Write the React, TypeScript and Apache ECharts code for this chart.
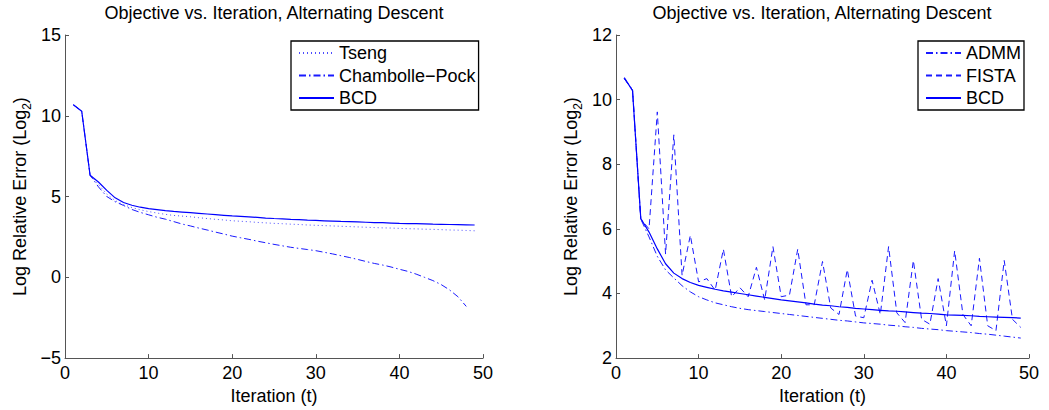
import React, { useEffect, useRef } from "react";
import * as echarts from "echarts";

const FONT = "'Liberation Sans', Arial, Helvetica, sans-serif";
const TITLE = "Objective vs. Iteration, Alternating Descent";

const iterations = [
  1, 2, 3, 4, 5, 6, 7, 8, 9, 10, 11, 12, 13, 14, 15, 16, 17, 18, 19, 20,
  21, 22, 23, 24, 25, 26, 27, 28, 29, 30, 31, 32, 33, 34, 35, 36, 37, 38, 39, 40,
  41, 42, 43, 44, 45, 46, 47, 48, 49,
];

const bcd = [
  10.68, 10.28, 6.32, 5.9, 5.38, 4.92, 4.63, 4.46, 4.34, 4.25,
  4.19, 4.13, 4.08, 4.04, 4.0, 3.96, 3.92, 3.88, 3.84, 3.8,
  3.77, 3.74, 3.71, 3.67, 3.64, 3.62, 3.59, 3.57, 3.54, 3.52,
  3.5, 3.48, 3.46, 3.45, 3.43, 3.41, 3.39, 3.38, 3.36, 3.34,
  3.33, 3.32, 3.31, 3.29, 3.28, 3.27, 3.26, 3.25, 3.24,
];

const tseng = [
  10.68, 10.28, 6.32, 5.75, 5.15, 4.75, 4.5, 4.32, 4.18, 4.07,
  3.98, 3.9, 3.83, 3.79, 3.75, 3.69, 3.64, 3.59, 3.55, 3.5,
  3.47, 3.44, 3.4, 3.37, 3.34, 3.32, 3.29, 3.27, 3.24, 3.22,
  3.2, 3.18, 3.16, 3.14, 3.12, 3.1, 3.08, 3.06, 3.05, 3.03,
  3.01, 3.0, 2.98, 2.97, 2.95, 2.93, 2.92, 2.9, 2.88,
];

const chambollePock = [
  10.68, 10.28, 6.32, 5.6, 5.0, 4.68, 4.45, 4.2, 4.02, 3.87,
  3.72, 3.6, 3.45, 3.3, 3.18, 3.05, 2.93, 2.8, 2.68, 2.55,
  2.45, 2.35, 2.24, 2.14, 2.04, 1.95, 1.86, 1.79, 1.72, 1.65,
  1.55, 1.45, 1.34, 1.23, 1.11, 0.98, 0.86, 0.76, 0.64, 0.5,
  0.37, 0.2, 0.0, -0.2, -0.45, -0.78, -1.2, -1.8,
];

const admm = [
  10.65, 10.3, 6.3, 5.75, 5.15, 4.73, 4.48, 4.24, 4.05, 3.9,
  3.8, 3.71, 3.65, 3.59, 3.54, 3.5, 3.47, 3.44, 3.41, 3.38,
  3.35, 3.32, 3.29, 3.26, 3.23, 3.2, 3.17, 3.15, 3.12, 3.09,
  3.07, 3.05, 3.02, 3.0, 2.97, 2.95, 2.92, 2.9, 2.88, 2.85,
  2.83, 2.81, 2.79, 2.76, 2.74, 2.71, 2.68, 2.65, 2.62,
];

const fista = [
  10.65, 10.3, 6.3, 6.0, 9.62, 5.22, 8.91, 4.56, 5.8, 4.36,
  4.46, 4.1, 5.37, 3.9, 4.18, 3.9, 4.81, 3.8, 5.45, 3.9,
  3.95, 5.37, 3.65, 3.65, 4.99, 3.55, 3.35, 4.74, 3.3, 3.25,
  4.41, 3.35, 5.45, 3.4, 3.1, 5.02, 3.2, 3.05, 4.46, 3.0,
  5.32, 3.35, 3.0, 5.09, 3.0, 2.85, 5.02, 3.2, 2.95,
];

const leftNames = ["Tseng", "Chambolle\u2212Pock", "BCD"];
const rightNames = ["ADMM", "FISTA", "BCD"];

const xTicks = { min: 0, max: 50, interval: 10 };
const leftY = { min: -5, max: 15, interval: 5 };
const rightY = { min: 2, max: 12, interval: 2 };

const toPairs = (vals: number[]) => vals.map((v, i) => [iterations[i], v]);

const AXIS_COLOR = "#555";

function xAxisFor(gridIndex: number) {
  return {
    gridIndex,
    type: "value",
    ...xTicks,
    name: "Iteration (t)",
    nameLocation: "middle",
    nameGap: 23,
    nameTextStyle: { fontSize: 18, color: "#000", fontFamily: FONT },
    axisLine: { show: true, onZero: false, lineStyle: { color: AXIS_COLOR, width: 1 } },
    axisTick: { show: true, inside: true, length: 4, lineStyle: { color: AXIS_COLOR } },
    splitLine: { show: false },
    axisLabel: { color: "#000", fontSize: 18, fontFamily: FONT, margin: 6 },
  };
}

function yAxisFor(gridIndex: number, range: { min: number; max: number; interval: number }) {
  return {
    gridIndex,
    type: "value",
    ...range,
    name: "{a|Log Relative Error (Log}{s|2}{a|)}",
    nameLocation: "middle",
    nameRotate: 90,
    nameGap: 36,
    nameTextStyle: {
      color: "#000",
      fontFamily: FONT,
      rich: {
        a: { fontSize: 18, fontFamily: FONT, color: "#000", lineHeight: 18, verticalAlign: "top" },
        s: { fontSize: 12, fontFamily: FONT, color: "#000", lineHeight: 12, verticalAlign: "top", padding: [10, 0, 0, 0] },
      },
    },
    axisLine: { show: true, onZero: false, lineStyle: { color: AXIS_COLOR, width: 1 } },
    axisTick: { show: true, inside: true, length: 4, lineStyle: { color: AXIS_COLOR } },
    splitLine: { show: false },
    axisLabel: {
      color: "#000",
      fontSize: 18,
      fontFamily: FONT,
      margin: 4,
      formatter: (v: number) => String(v).replace("-", "\u2212"),
    },
  };
}

function legendFor(names: string[], left: number) {
  return {
    data: names,
    orient: "vertical",
    left,
    top: 41,
    padding: [3, 3, 3, 7],
    itemWidth: 35,
    itemHeight: 10,
    itemGap: 4.5,
    borderColor: "#000",
    borderWidth: 1.3,
    backgroundColor: "#fff",
    selectedMode: false,
    itemStyle: { color: "transparent", borderColor: "transparent", borderWidth: 0, opacity: 0 },
    textStyle: { fontSize: 18, color: "#000", fontFamily: FONT },
  };
}

function titleFor(x: number) {
  return {
    text: TITLE,
    left: x,
    top: 4,
    padding: 0,
    textAlign: "center",
    textVerticalAlign: "top",
    textStyle: { fontSize: 18, fontWeight: "normal", fontFamily: FONT, color: "#000" },
  };
}

const DASH_DOT = [7, 3, 1.5, 3];

export default function App() {
  const ref = useRef<HTMLDivElement>(null);

  useEffect(() => {
    if (!ref.current) return;
    const chart = echarts.init(ref.current, undefined, { renderer: "svg" });
    const option = {
      animation: false,
      backgroundColor: "#fff",
      textStyle: { fontFamily: FONT },
      title: [titleFor(274), titleFor(822)],
      grid: [
        { left: 65, right: 566, top: 35, bottom: 46 },
        { left: 616, right: 20, top: 35, bottom: 46 },
      ],
      xAxis: [xAxisFor(0), xAxisFor(1)],
      yAxis: [yAxisFor(0, leftY), yAxisFor(1, rightY)],
      legend: [legendFor(leftNames, 291), legendFor(rightNames, 918)],
      series: [
        {
          name: leftNames[0],
          type: "line",
          xAxisIndex: 0,
          yAxisIndex: 0,
          symbol: "none",
          data: toPairs(tseng),
          color: "#4d4dff",
          lineStyle: { color: "#4d4dff", width: 1, type: [1, 3] },
        },
        {
          name: leftNames[1],
          type: "line",
          xAxisIndex: 0,
          yAxisIndex: 0,
          symbol: "none",
          data: toPairs(chambollePock),
          color: "#1a1aff",
          lineStyle: { color: "#1a1aff", width: 1, type: DASH_DOT },
        },
        {
          name: leftNames[2],
          type: "line",
          xAxisIndex: 0,
          yAxisIndex: 0,
          symbol: "none",
          data: toPairs(bcd),
          color: "#0000ff",
          lineStyle: { color: "#0000ff", width: 1.2 },
        },
        {
          name: rightNames[0],
          type: "line",
          xAxisIndex: 1,
          yAxisIndex: 1,
          symbol: "none",
          data: toPairs(admm),
          color: "#1a1aff",
          lineStyle: { color: "#1a1aff", width: 1, type: DASH_DOT },
        },
        {
          name: rightNames[1],
          type: "line",
          xAxisIndex: 1,
          yAxisIndex: 1,
          symbol: "none",
          data: toPairs(fista),
          color: "#1a1aff",
          lineStyle: { color: "#1a1aff", width: 1, type: [6, 4] },
        },
        {
          name: rightNames[2],
          type: "line",
          xAxisIndex: 1,
          yAxisIndex: 1,
          symbol: "none",
          data: toPairs(bcd),
          color: "#0000ff",
          lineStyle: { color: "#0000ff", width: 1.2 },
        },
      ],
    };
    chart.setOption(option as any);
    return () => chart.dispose();
  }, []);

  return (
    <div
      ref={ref}
      style={{ position: "fixed", left: 0, top: 0, width: 1049, height: 410, background: "#fff" }}
    />
  );
}
